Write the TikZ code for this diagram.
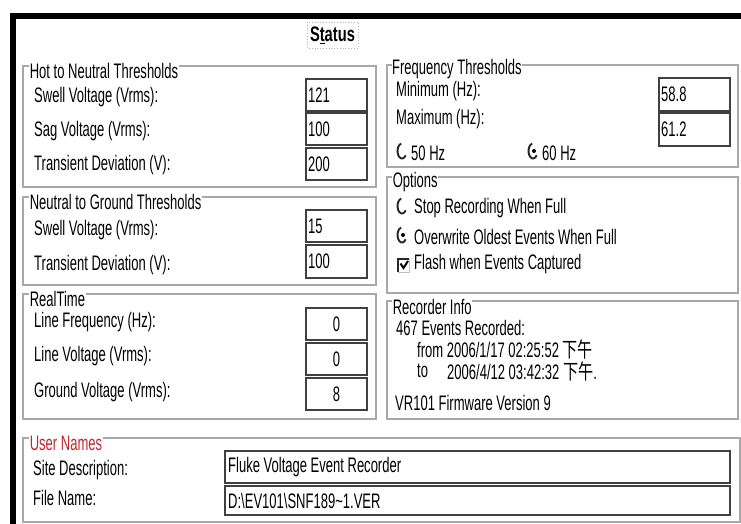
\documentclass[tikz,border=0pt]{standalone}
\usepackage{fontspec}
\setmainfont[FakeStretch=0.62]{Liberation Sans}
\newfontfamily\statusf[FakeStretch=0.7]{Liberation Sans}
\newfontfamily\cjkf[FakeStretch=0.72]{Noto Sans CJK SC}
\newcommand\ui{\fontsize{21}{23}\selectfont}
\definecolor{grpline}{HTML}{A8A8A8}
\definecolor{fldline}{HTML}{404040}
\definecolor{titlered}{HTML}{C0282D}
\tikzset{
  grp/.style={draw=grpline, line width=1.3pt},
  ttl/.style={fill=white, inner sep=0.6pt, anchor=west, font=\ui},
  lbl/.style={anchor=west, inner sep=0pt, font=\ui},
  fld/.style={draw=fldline, line width=1.6pt, fill=white},
  val/.style={anchor=west, inner sep=0pt, font=\ui},
  cval/.style={anchor=center, inner sep=0pt, font=\ui},
  radio/.style={draw=black!85, line width=1.9pt},
}
\begin{document}
\begin{tikzpicture}[x=1pt,y=-1pt]
\useasboundingbox (0,0) rectangle (741,524);
\fill[white] (0,0) rectangle (741,524);
% outer frame
\draw[line width=6pt, line cap=rect] (12.5,524) -- (12.5,16.5) -- (741,16.5);
% status button
\draw[draw=gray!60, line width=0.8pt, dotted] (307,22) rectangle (358,48);
\node[font=\ui\statusf\bfseries, inner sep=0pt] (status) at (332.5,35) {S\underline{t}atus};

% ---- Hot to Neutral
\draw[grp] (23,66) rectangle (376,187);
\node[ttl] (t1) at (29,71) {Hot to Neutral Thresholds};
\node[lbl] (l11) at (34,97) {Swell Voltage (Vrms):};
\node[lbl] (l12) at (34,131) {Sag Voltage (Vrms):};
\node[lbl] (l13) at (34,165) {Transient Deviation (V):};
\draw[fld] (306,79) rectangle (367,111);
\draw[fld] (306,113) rectangle (367,145);
\draw[fld] (306,148) rectangle (367,180);
\node[val] (v11) at (308,95) {121};
\node[val] (v12) at (308,129) {100};
\node[val] (v13) at (308,164) {200};

% ---- Neutral to Ground
\draw[grp] (23,197) rectangle (376,285);
\node[ttl] (t2) at (29,202) {Neutral to Ground Thresholds};
\node[lbl] (l21) at (34,230) {Swell Voltage (Vrms):};
\node[lbl] (l22) at (34,265) {Transient Deviation (V):};
\draw[fld] (306,210) rectangle (367,242);
\draw[fld] (306,245) rectangle (367,278);
\node[val] (v21) at (308,226) {15};
\node[val] (v22) at (308,261) {100};

% ---- RealTime
\draw[grp] (23,294) rectangle (376,419);
\node[ttl] (t3) at (29,299) {RealTime};
\node[lbl] (l31) at (34,322) {Line Frequency (Hz):};
\node[lbl] (l32) at (34,356) {Line Voltage (Vrms):};
\node[lbl] (l33) at (34,392) {Ground Voltage (Vrms):};
\draw[fld] (306,308) rectangle (367,340);
\draw[fld] (306,343) rectangle (367,375);
\draw[fld] (306,378) rectangle (367,410);
\node[cval] (v31) at (336.5,324) {0};
\node[cval] (v32) at (336.5,359) {0};
\node[cval] (v33) at (336.5,394) {8};

% ---- Frequency Thresholds
\draw[grp] (387,65) rectangle (738,167);
\node[ttl, inner sep=0pt] (t4) at (392,69.5) {Frequency Thresholds};
\node[lbl] (l41) at (396,91) {Minimum (Hz):};
\node[lbl] (l42) at (396,119) {Maximum (Hz):};
\draw[fld] (659,78) rectangle (730,111);
\draw[fld] (659,113) rectangle (730,146);
\node[val] (v41) at (661,94) {58.8};
\node[val] (v42) at (661,129) {61.2};
\draw[radio] (402,151) ++(35:4.5 and 7.5) arc[start angle=35, end angle=260, x radius=4.5, y radius=7.5];
\node[lbl] (r1) at (411,153) {50 Hz};
\draw[radio] (533,151) ++(35:4.5 and 7.5) arc[start angle=35, end angle=260, x radius=4.5, y radius=7.5];
\fill[black] (534,151) circle (2);
\node[lbl] (r2) at (542,153) {60 Hz};

% ---- Options
\draw[grp] (387,177) rectangle (738,293);
\node[ttl] (t5) at (392,182) {Options};
\draw[radio] (402,206) ++(35:4.5 and 7.5) arc[start angle=35, end angle=260, x radius=4.5, y radius=7.5];
\node[lbl] (o1) at (414,208) {Stop Recording When Full};
\draw[radio] (402,235) ++(35:4.5 and 7.5) arc[start angle=35, end angle=260, x radius=4.5, y radius=7.5];
\fill[black] (403,235) circle (2);
\node[lbl] (o2) at (414,237) {Overwrite Oldest Events When Full};
\draw[black!85, line width=1.8pt] (398,272) -- (398,259) -- (409,259);
\draw[gray!50, line width=0.8pt] (409,259) -- (409,272) -- (398,272);
\draw[black, line width=2pt] (400.5,263.5) -- (403.5,268) -- (408,261);
\node[lbl] (o3) at (414,264) {Flash when Events Captured};

% ---- Recorder Info
\draw[grp] (387,301) rectangle (738,419);
\node[ttl] (t6) at (392,307) {Recorder Info};
\node[lbl] (i1) at (396,328) {467 Events Recorded:};
\node[lbl] (i2) at (417,349) {from 2006/1/17 02:25:52 {\cjkf 下午}};
\node[lbl] (i3) at (417,371) {to};
\node[lbl] (i4) at (447,371) {2006/4/12 03:42:32 {\cjkf 下午}.};
\node[lbl] (i5) at (395,403) {VR101 Firmware Version 9};

% ---- User Names
\draw[grp] (23,438) rectangle (740,522);
\node[ttl, text=titlered] (t7) at (29,443) {User Names};
\node[lbl] (u1) at (33,470) {Site Description:};
\node[lbl] (u2) at (33,498) {File Name:};
\draw[fld] (225,451) rectangle (730,483);
\draw[fld] (225,486) rectangle (730,515);
\node[val] (uv1) at (228,467) {Fluke Voltage Event Recorder};
\node[val] (uv2) at (228,501) {D:\textbackslash EV101\textbackslash SNF189\textasciitilde 1.VER};
\end{tikzpicture}
\end{document}
